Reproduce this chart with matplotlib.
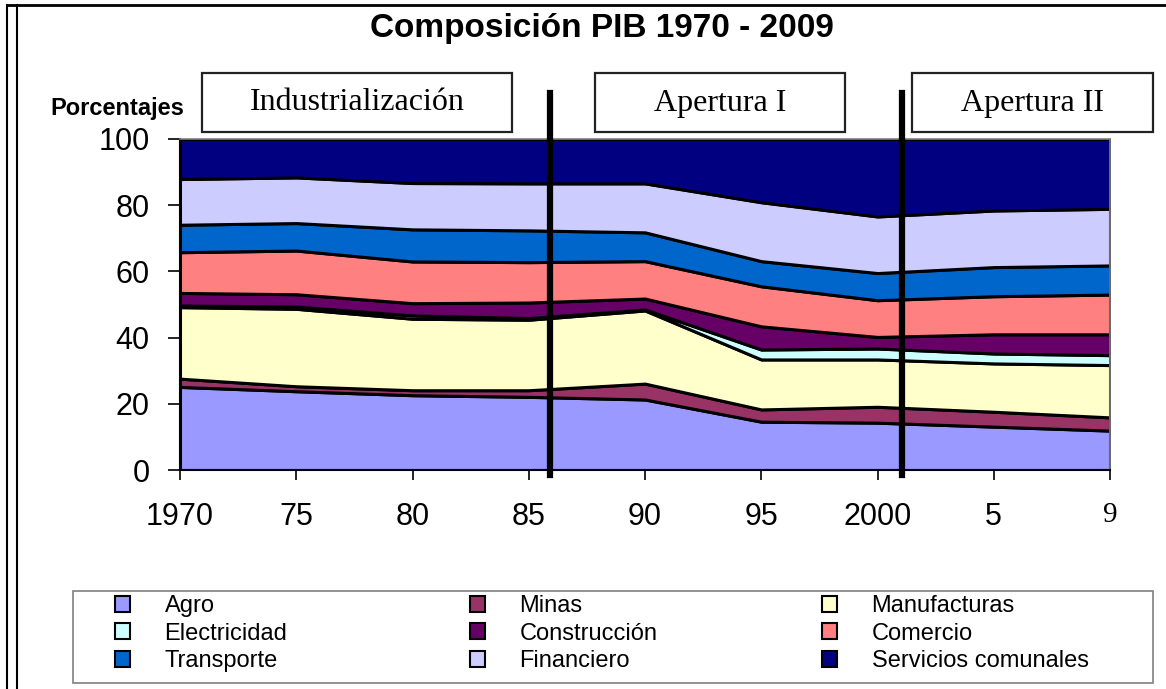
import matplotlib
matplotlib.use("Agg")
import matplotlib.pyplot as plt
from matplotlib.patches import Patch, Rectangle
from matplotlib.lines import Line2D

years = ["1970", "75", "80", "85", "90", "95", "2000", "5", "9"]

series_names = ["Agro", "Minas", "Manufacturas", "Electricidad", "Construcción",
                "Comercio", "Transporte", "Financiero", "Servicios comunales"]

agro = [25.1, 23.8, 22.6, 22.1, 21.3, 14.6, 14.3, 13.1, 11.9]
minas = [2.5, 1.5, 1.5, 2.0, 4.8, 3.7, 4.8, 4.5, 4.0]
manufacturas = [21.6, 23.4, 21.6, 21.3, 22.1, 15.1, 14.3, 14.6, 15.8]
electricidad = [0.5, 0.7, 1.0, 0.5, 0.3, 3.0, 3.3, 3.0, 3.0]
construccion = [3.8, 3.7, 3.7, 4.7, 3.3, 7.0, 3.5, 5.8, 6.3]
comercio = [12.3, 13.2, 12.6, 12.2, 11.3, 12.1, 11.1, 11.5, 12.0]
transporte = [8.3, 8.3, 9.7, 9.6, 8.7, 7.6, 8.2, 8.8, 8.8]
financiero = [13.8, 13.8, 14.0, 14.2, 14.8, 17.8, 17.1, 17.1, 17.1]
servicios = [12.1, 11.6, 13.3, 13.4, 13.4, 19.1, 23.4, 21.6, 21.1]

colors = ["#9999FF", "#993366", "#FFFFCC", "#CCFFFF", "#660066",
          "#FF8080", "#0066CC", "#CCCCFF", "#000080"]

periods = ["Industrialización", "Apertura I", "Apertura II"]
# period boundaries (category index where the thick lines sit)
breaks = [3.18, 6.21]

W, H = 1166, 689
fig = plt.figure(figsize=(W / 100, H / 100), dpi=100)

def px(x0, y0, x1, y1):
  # pixel box (top-left origin) -> figure fraction rect
  return [x0 / W, 1 - y1 / H, (x1 - x0) / W, (y1 - y0) / H]

ax = fig.add_axes(px(180, 139, 1110, 470))

x = list(range(len(years)))
data = [agro, minas, manufacturas, electricidad, construccion,
        comercio, transporte, financiero, servicios]
ax.stackplot(x, data, colors=colors, edgecolor="black", linewidth=2.2,
             labels=series_names)

ax.set_xlim(0, len(years) - 1)
ax.set_ylim(0, 100)
ax.set_yticks([0, 20, 40, 60, 80, 100])
ax.set_xticks(x)
ax.set_xticklabels(years)
ax.tick_params(axis="y", labelsize=22, length=9, width=1.2, pad=13)
ax.tick_params(axis="x", labelsize=22, length=7, width=1.2, pad=16)
for lbl in ax.get_yticklabels() + ax.get_xticklabels():
  lbl.set_fontfamily("Liberation Sans")
ax.get_xticklabels()[-1].set_fontfamily("Liberation Serif")
ax.get_xticklabels()[-1].set_fontsize(21)

ax.spines["left"].set_linewidth(1.5)
ax.spines["bottom"].set_linewidth(1.5)
for s in ["top", "right"]:
  ax.spines[s].set_color("#808080")
  ax.spines[s].set_linewidth(1.2)

# thick period separators
for b in breaks:
  ax.plot([b, b], [-1.5, 114], color="black", linewidth=4.5, clip_on=False, zorder=5)

fig.text(602 / W, 1 - 28 / H, "Composición PIB 1970 - 2009", ha="center", va="center",
         fontsize=24, fontweight="bold", family="Liberation Sans")
fig.text(117 / W, 1 - 108 / H, "Porcentajes", ha="center", va="center",
         fontsize=17, fontweight="bold", family="Liberation Sans")

boxes = [(202, 512), (595, 845), (912, 1153)]
for (bx0, bx1), name in zip(boxes, periods):
  fig.add_artist(Rectangle((bx0 / W, 1 - 132 / H), (bx1 - bx0) / W, 59 / H,
                           transform=fig.transFigure, facecolor="white",
                           edgecolor="#222222", linewidth=1.6))
  fig.text((bx0 + bx1) / 2 / W, 1 - 103 / H, name, ha="center", va="center",
           fontsize=23, family="Liberation Serif")

# outer frame
fig.add_artist(Line2D([7 / W, 7 / W], [0, 1 - 5 / H], transform=fig.transFigure,
                      color="black", linewidth=1.5))
fig.add_artist(Line2D([17 / W, 17 / W], [0, 1 - 5 / H], transform=fig.transFigure,
                      color="black", linewidth=1.5))
fig.add_artist(Line2D([7 / W, 1], [1 - 5 / H, 1 - 5 / H], transform=fig.transFigure,
                      color="black", linewidth=2))

# legend frame + three single-column legends, row-major order like the original
fig.add_artist(Rectangle((73 / W, 1 - 683 / H), 1080 / W, 92 / H,
                         transform=fig.transFigure, facecolor="white",
                         edgecolor="#808080", linewidth=1.2))
handles = [Patch(facecolor=c, edgecolor="black", linewidth=1.5) for c in colors]
col_x = [115, 470, 822]
for k, cx in enumerate(col_x):
  idx = [k, k + 3, k + 6]
  leg = fig.legend([handles[i] for i in idx], [series_names[i] for i in idx],
                   loc="upper left", bbox_to_anchor=(cx / W, 1 - 595 / H),
                   ncol=1, frameon=False,
                   prop={"family": "Liberation Sans", "size": 17},
                   handlelength=0.65, handleheight=0.65, handletextpad=1.45,
                   labelspacing=0.24, borderpad=0, borderaxespad=0)

fig.savefig("out.png", dpi=100)
